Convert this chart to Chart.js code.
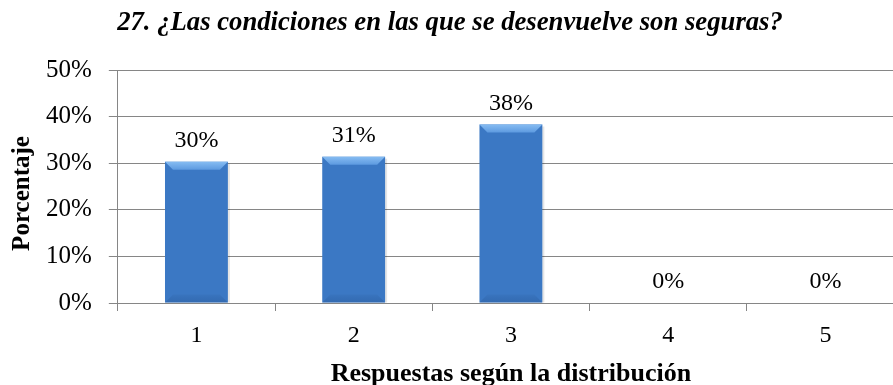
<!DOCTYPE html>
<html>
<head>
<meta charset="utf-8">
<script src="https://cdn.jsdelivr.net/npm/chart.js@4"></script>
<style>
  html, body { margin: 0; padding: 0; background: #fff; overflow: hidden; }
  #wrap { position: relative; width: 904px; height: 387px; }
</style>
</head>
<body>
<div id="wrap"><canvas id="c"></canvas></div>
<script>
// Survey question 27: share of answers per response option
const categories = ['1', '2', '3', '4', '5'];
const percentages = [30.3, 31.4, 38.3, 0, 0];
const yTickValues = [0, 10, 20, 30, 40, 50];

const chartTitle = '27. ¿Las condiciones en las que se desenvuelve son seguras?';
const xTitle = 'Respuestas según la distribución';
const yTitle = 'Porcentaje';

const SERIF = '"Liberation Serif", "Times New Roman", serif';

// Bars get a horizontal blue gradient plus a bevelled top and bottom edge
function barFill(ctx) {
  const el = ctx.element;
  const c = ctx.chart.ctx;
  if (!el || el.x === undefined) return '#3b78c4';
  const w = el.width || 63;
  const g = c.createLinearGradient(el.x - w / 2, 0, el.x + w / 2, 0);
  g.addColorStop(0, '#3068b0');
  g.addColorStop(0.08, '#3a78c5');
  g.addColorStop(0.5, '#3d7dcb');
  g.addColorStop(0.92, '#3874c0');
  g.addColorStop(1, '#2b5e9f');
  return g;
}

const bevelPlugin = {
  id: 'bevel',
  afterDatasetsDraw(chart) {
    const c = chart.ctx;
    chart.getDatasetMeta(0).data.forEach(bar => {
      const h = bar.base - bar.y;
      if (h < 2) return;
      const l = bar.x - bar.width / 2, r = bar.x + bar.width / 2;
      const t = bar.y, b = bar.base;
      const d = Math.min(8, h / 3);
      c.save();
      // light top bevel
      const tg = c.createLinearGradient(0, t, 0, t + d);
      tg.addColorStop(0, '#86bcf2');
      tg.addColorStop(1, '#5d9ae0');
      c.fillStyle = tg;
      c.beginPath();
      c.moveTo(l, t); c.lineTo(r, t); c.lineTo(r - d, t + d); c.lineTo(l + d, t + d);
      c.closePath(); c.fill();
      // darker bottom bevel
      const bg = c.createLinearGradient(0, b - d, 0, b);
      bg.addColorStop(0, 'rgba(35,80,140,0.10)');
      bg.addColorStop(1, 'rgba(35,80,140,0.35)');
      c.fillStyle = bg;
      c.beginPath();
      c.moveTo(l, b); c.lineTo(r, b); c.lineTo(r - d, b - d); c.lineTo(l + d, b - d);
      c.closePath(); c.fill();
      // soft shadow on the right
      c.fillStyle = 'rgba(0,0,0,0.10)';
      c.fillRect(r, t + 2, 2, h - 2);
      c.restore();
    });
  }
};

// Value labels above each bar
const valueLabelPlugin = {
  id: 'valueLabels',
  afterDatasetsDraw(chart) {
    const c = chart.ctx;
    const ds = chart.data.datasets[0];
    c.save();
    c.font = '24px ' + SERIF;
    c.fillStyle = '#000';
    c.textAlign = 'center';
    c.textBaseline = 'alphabetic';
    chart.getDatasetMeta(0).data.forEach((bar, i) => {
      c.fillText(Math.round(ds.data[i]) + '%', bar.x, bar.y - 15);
    });
    c.restore();
  }
};

// Heading above the plot and the rotated y-axis caption
const textPlugin = {
  id: 'texts',
  afterDraw(chart) {
    const c = chart.ctx;
    c.save();
    c.fillStyle = '#000';
    c.font = 'italic bold 26.7px ' + SERIF;
    c.textAlign = 'center';
    c.textBaseline = 'alphabetic';
    c.fillText(chartTitle, 450, 30);

    const a = chart.chartArea;
    c.translate(23, (a.top + a.bottom) / 2 + 7);
    c.rotate(-Math.PI / 2);
    c.font = 'bold 25px ' + SERIF;
    c.textBaseline = 'middle';
    c.fillText(yTitle, 0, 0);
    c.restore();
  }
};

new Chart(document.getElementById('c'), {
  type: 'bar',
  data: {
    labels: categories,
    datasets: [{
      data: percentages,
      backgroundColor: barFill,
      borderWidth: 0,
      barPercentage: 0.4,
      categoryPercentage: 1.0
    }]
  },
  options: {
    responsive: true,
    maintainAspectRatio: false,
    animation: false,
    layout: { padding: { top: 70, right: 0, left: 29, bottom: 0 } },
    plugins: {
      legend: { display: false },
      tooltip: { enabled: false },
      title: { display: false }
    },
    scales: {
      x: {
        offset: true,
        grid: {
          offset: true,
          drawOnChartArea: false,
          drawTicks: true,
          tickLength: 8,
          color: '#868686'
        },
        border: { display: true, color: '#868686', width: 1 },
        ticks: {
          color: '#000',
          font: { family: SERIF, size: 24, lineHeight: 1.0 },
          padding: 13
        },
        title: {
          display: true,
          text: xTitle,
          color: '#000',
          font: { family: SERIF, size: 26, weight: 'bold', lineHeight: 1.0 },
          padding: { top: 0, bottom: 0 }
        }
      },
      y: {
        min: 0,
        max: 50,
        afterBuildTicks(axis) {
          axis.ticks = yTickValues.map(v => ({ value: v }));
        },
        grid: {
          color: '#868686',
          lineWidth: 1,
          drawTicks: true,
          tickLength: 9
        },
        border: { display: true, color: '#868686', width: 1 },
        ticks: {
          color: '#000',
          font: { family: SERIF, size: 25 },
          padding: 17,
          callback: v => v + '%'
        },
        title: { display: false }
      }
    }
  },
  plugins: [bevelPlugin, valueLabelPlugin, textPlugin]
});
</script>
</body>
</html>
